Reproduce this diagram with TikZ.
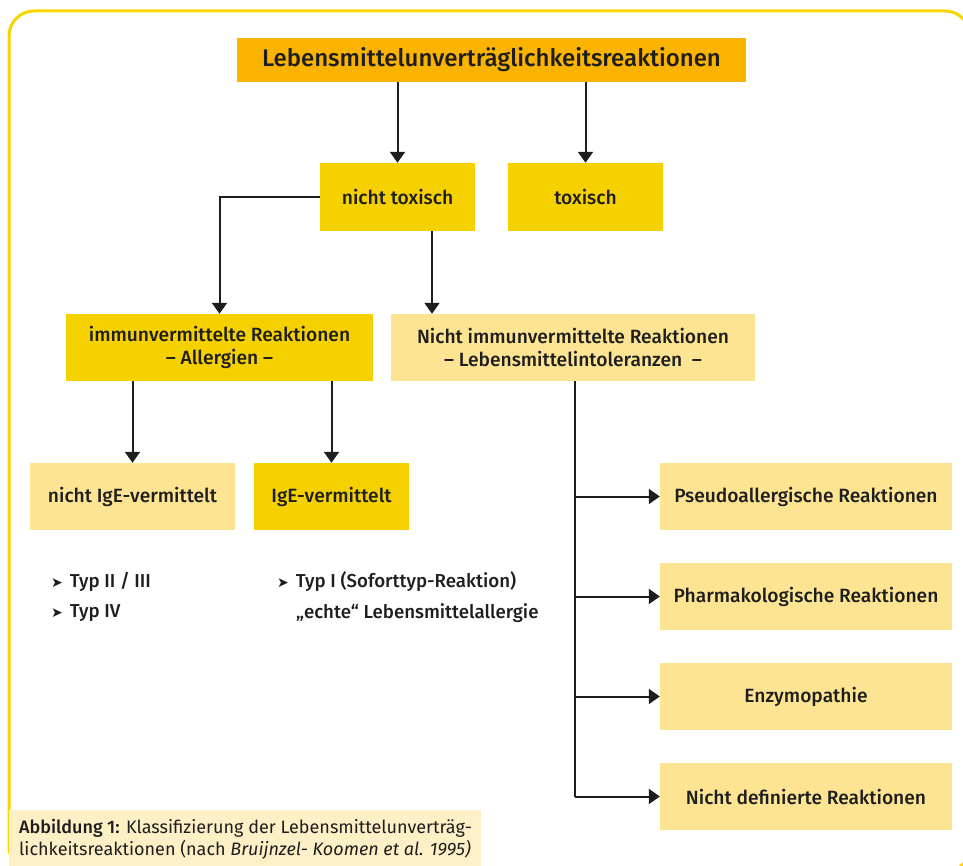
\documentclass[tikz,border=0pt]{standalone}
\usepackage{fontspec}
\setmainfont{Fira Sans}[BoldFont={Fira Sans Medium}]
\newfontfamily\symfont{DejaVu Sans}
\usetikzlibrary{arrows.meta}

\definecolor{orangebar}{HTML}{F9B300}
\definecolor{gold}{HTML}{F6D100}
\definecolor{pale}{HTML}{FCE493}
\definecolor{cream}{HTML}{FEF0C6}
\definecolor{framecol}{HTML}{F8D500}
\definecolor{ink}{HTML}{1E1E1E}

\tikzset{
  box/.style={draw=none, inner sep=0pt, align=center, text=ink,
    font=\fontsize{19.2}{23}\selectfont\bfseries},
  goldbox/.style={box, fill=gold},
  palebox/.style={box, fill=pale},
  conn/.style={draw=ink, line width=2pt},
  arr/.style={conn, -{Triangle[width=15pt,length=11pt]}},
  bullettext/.style={inner sep=0pt, anchor=west, text=ink,
    font=\fontsize{18.7}{22}\selectfont\bfseries},
}
\newcommand{\tip}{{\symfont\fontsize{14}{14}\selectfont ➤}\hspace{7pt}}

\begin{document}
\begin{tikzpicture}[x=1pt, y=-1pt]
\clip (0,0) rectangle (963,866);

% outer frame
\draw[framecol, line width=3pt, rounded corners=25pt] (9,11) rectangle (970,872);

% boxes
\node[box, fill=orangebar, minimum width=509pt, minimum height=44pt,
      font=\fontsize{24}{27}\selectfont\bfseries] (top) at (491.5,60)
  {Lebensmittelunverträglichkeitsreaktionen};
\node[goldbox, minimum width=155pt, minimum height=68pt] (nt) at (397.5,197) {nicht toxisch};
\node[goldbox, minimum width=155pt, minimum height=68pt] (tox) at (585.5,197) {toxisch};
\node[goldbox, minimum width=307pt, minimum height=67pt] (imm) at (219.5,347.5)
  {immunvermittelte Reaktionen\\– Allergien –};
\node[palebox, minimum width=364pt, minimum height=67pt] (nimm) at (573,347.5)
  {Nicht immunvermittelte Reaktionen\\– Lebensmittelintoleranzen~~–};
\node[palebox, minimum width=205pt, minimum height=67pt] (nige) at (132.5,496.5) {nicht IgE-vermittelt};
\node[goldbox, minimum width=155pt, minimum height=67pt] (ige) at (331.5,496.5) {IgE-vermittelt};

\node[palebox, minimum width=292pt, minimum height=67pt] (r1) at (806,496.5) {Pseudoallergische Reaktionen};
\node[palebox, minimum width=292pt, minimum height=67pt] (r2) at (806,596.5) {Pharmakologische Reaktionen};
\node[palebox, minimum width=292pt, minimum height=67pt] (r3) at (806,696.5) {Enzymopathie};
\node[palebox, minimum width=292pt, minimum height=67pt] (r4) at (806,796.5) {Nicht definierte Reaktionen};

% connectors
\draw[arr] (top.south -| nt.north) -- (nt.north);
\draw[arr] (top.south -| tox.north) -- (tox.north);
\draw[arr] (nt.west) -| (imm.north);
\coordinate (ntdrop) at ([xshift=34.5pt]nt.south);
\draw[arr] (ntdrop) -- (ntdrop |- nimm.north);
\draw[arr] (imm.south -| nige.north) -- (nige.north);
\draw[arr] (imm.south -| ige.north) -- (ige.north);

\coordinate (stem) at ([xshift=2pt]nimm.south);
\draw[conn] (stem) -- (stem |- r4.west);
\foreach \r in {r1,r2,r3,r4}
  \draw[arr] (stem |- \r.west) -- (\r.west);

% bullet lists
\node[bullettext] (b1) at (51,582) {\tip Typ II / III};
\node[bullettext] (b2) at (51,613) {\tip Typ IV};
\node[bullettext] (b3) at (277,582) {\tip Typ I (Soforttyp-Reaktion)};
\node[bullettext] (b4) at (296,613) {„echte“ Lebensmittelallergie};

% caption
\fill[cream] (9,810) rectangle (481,866);
\node[inner sep=0pt, anchor=north west, align=left, text=ink,
      font=\fontsize{18}{22}\selectfont] (cap) at (19,819)
  {\textbf{Abbildung 1:} Klassifizierung der Lebensmittelunverträg-\\
   lichkeitsreaktionen (nach \textit{Bruijnzel- Koomen et al. 1995)}};
\end{tikzpicture}
\end{document}
